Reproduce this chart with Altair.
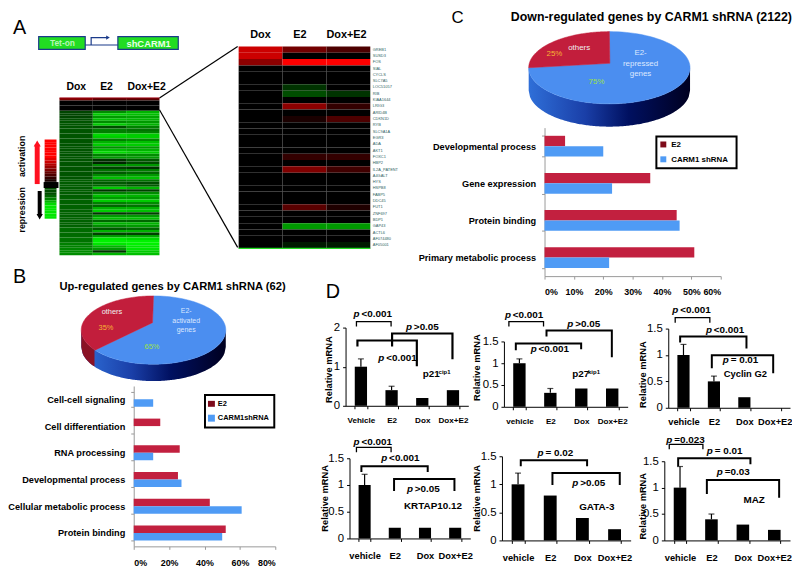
import altair as alt
import numpy as np
import pandas as pd

FONT = "Liberation Sans"
W, H = 792, 560

# ---------- data ----------
hm_left_cols = ["Dox", "E2", "Dox+E2"]
hm_left_head = [[0.5, 0.35, 0.35], [0, 0, 0], [0, 0, 0], [0, 0, 0], [0, 0, 0]]
hm_left_dox = [-.27, -.27, -.27, -.3, -.33, -.33, -.33, -.33, -.33, -.33,
               -.33, -.33, -.33, -.33, -.33, -.33, -.33, -.33, -.33, -.33,
               -.33, -.33, -.33, -.33, -.33, -.33, -.33, -.36, -.36, -.36,
               -.36, -.36, -.36, -.36, -.38, -.38, -.38, -.38, -.38, -.38,
               -.38, -.38, -.38, -.38, -.38, -.38, -.42, -.42, -.42, -.42,
               -.45, -.45, -.5, -.5, -.52, -.55, -.55]
hm_left_e2 = [-.55, -.8, -.6, -.75, -.55, -.8, -.3, -.5, -.5, -.85,
              -.8, -.5, -.7, -.8, -.55, -.75, -.85, -.5, -.6, -.2,
              -.15, -.55, -.25, -.45, -.35, -.55, -.75, -.4, -.35, -.4,
              -.8, -.2, -.5, -.75, -.6, -.8, -.5, -.4, -.7, -.8,
              -.2, -.6, -.75, -.4, -.7, -.55, -.35, -.7, -.25, -.6,
              -.9, -.95, -.9, -.7, -.6, -.2, -.7]
hm_left_de = [-.7, -.75, -.65, -.7, -.6, -.7, -.5, -.45, -.5, -.8,
              -.8, -.55, -.75, -.8, -.6, -.7, -.8, -.55, -.6, -.35,
              -.3, -.6, -.2, -.5, -.4, -.6, -.75, -.45, -.3, -.35,
              -.7, -.25, -.55, -.7, -.6, -.8, -.55, -.45, -.7, -.75,
              -.25, -.6, -.75, -.4, -.7, -.6, -.4, -.7, -.25, -.65,
              -.85, -.95, -.95, -.9, -.9, -.8, -.75]

genes = ["GREB1", "SUSD3", "FOS", "SIAL", "CYCLS", "SLC7A5", "LOC51057", "RIB",
         "KIAA1644", "LRIG3", "ARID4B", "CDKN1D", "RYB", "SLC9A1A", "EGR3", "ADA",
         "AKT1", "FOXC1", "HBP2", "IL2A_PATENT", "A4GALT", "HYS", "HSPB8", "FABP5",
         "DDC45", "FUT1", "ZNF697", "BDP1", "GAP43", "ACTL6", "AF074480", "AF05001"]
hm_right_dox = [.8, .8, .55] + [0] * 29
hm_right_e2 = [.45, 0, 1, 0, 0, 0, -.2, -.3, 0, .55, 0, .1, 0, 0, 0, 0, 0, .2, 0, .5,
               0, 0, 0, 0, 0, .35, 0, 0, -.6, 0, 0, -.1]
hm_right_de = [.3, 0, 1, 0, 0, 0, 0, -.2, 0, .2, 0, .3, 0, 0, 0, 0, 0, .2, 0, .25,
               0, 0, 0, 0, 0, .12, 0, 0, -.6, 0, 0, -.1]
colorbar_vals = [1, 1, 1, 1, 1, 1, 1, .9, .8, .7, .6, .5, .4, .3, .2, .1, 0, 0,
                 -.3, -.3, -.3, -.4, -.5, -.7, -.85, -.9, -.9, -.9, -.9, -.9]

up_cats = ["Cell-cell signaling", "Cell differentiation", "RNA processing",
           "Developmental process", "Cellular metabolic process", "Protein binding"]
up_e2 = [0, 15, 26, 25, 43, 52]
up_sh = [11, 0, 11, 27, 61, 50]
down_cats = ["Developmental process", "Gene expression", "Protein binding",
             "Primary metabolic process"]
down_e2 = [7, 36, 45, 51]
down_sh = [20, 23, 46, 22]

pie_up_others = 35
pie_down_others = 25

qpcr = [
    (["Vehicle", "E2", "Dox", "Dox+E2"], [1, .4, .2, .4], [.2, .1, 0, 0]),
    (["vehicle", "E2", "Dox", "Dox+E2"], [1, .32, .42, .42], [.1, .1, 0, 0]),
    (["vehicle", "E2", "Dox", "Dox+E2"], [1, .5, .2, 0], [.2, .1, 0, 0]),
    (["vehicle", "E2", "Dox", "Dox+E2"], [1, .2, .2, .2], [.2, 0, 0, 0]),
    (["vehicle", "E2", "Dox", "Dox+E2"], [1, .8, .4, .2], [.2, 0, 0, 0]),
    (["vehicle", "E2", "Dox", "Dox+E2"], [1, .4, .3, .2], [.4, .1, 0, 0]),
]

# ---------- layout (image pixels) ----------
# x0, x1, y0, ytop, ymax, yticks, label size, label pad, title x, title y
qpcr_layout = [
    (349, 473, 407, 328, 2.0, [0, 1, 2], 8.2, 8, 328, 370),
    (509, 634, 408, 342, 1.5, [0, .5, 1, 1.5], 8.2, 8, 477, 368),
    (675, 798, 409, 329, 1.5, [0, .5, 1, 1.5], 9.4, 7, 645, 375),
    (353, 475, 541, 460, 1.5, [0, .5, 1, 1.5], 9.4, 10, 324, 500),
    (507, 637, 543, 458, 1.5, [0, .5, 1, 1.5], 9.4, 10, 477, 500),
    (671, 798, 543, 463, 1.5, [0, .5, 1, 1.5], 9.4, 10, 645, 508),
]

fx = alt.Scale(domain=[0, 800], range=[-8, 792], nice=False, zero=False)
fy = alt.Scale(domain=[0, 572], range=[-8, 564], nice=False, zero=False)
FX = alt.X("x:Q", scale=fx, axis=None)
FY = alt.Y("y:Q", scale=fy, axis=None)
FX2 = alt.X2("x2:Q")
FY2 = alt.Y2("y2:Q")

layers = []

# ---------- heatmaps ----------
GREEN_RED = alt.Scale(domain=[-1, 0, 1], range=["#00ff00", "#000000", "#ff0000"],
                      interpolate="rgb", nice=False, zero=False)


def heat(df, xr, yr, cols, rows, yaxis=None):
    return alt.Chart(df).mark_rect().encode(
        x=alt.X("col:N", sort=cols, axis=None,
                scale=alt.Scale(domain=cols, range=[xr[0] - 8, xr[1] - 8], padding=0)),
        y=alt.Y("row:N", sort=rows, axis=yaxis,
                scale=alt.Scale(domain=rows, range=[yr[0] - 8, yr[1] - 8], padding=0)),
        color=alt.Color("v:Q", scale=GREEN_RED, legend=None),
    )


left_rows = [list(r) for r in hm_left_head] + [list(r) for r in zip(hm_left_dox, hm_left_e2, hm_left_de)]
left_df = pd.DataFrame([
    {"col": c, "row": f"g{i:02d}", "v": float(row[j])}
    for i, row in enumerate(left_rows) for j, c in enumerate(hm_left_cols)
])
layers.append(heat(left_df, (60, 161), (96, 255), hm_left_cols, [f"g{i:02d}" for i in range(len(left_rows))]))

right_df = pd.DataFrame([
    {"col": c, "row": g, "v": float(vals[i])}
    for c, vals in zip(hm_left_cols, [hm_right_dox, hm_right_e2, hm_right_de])
    for i, g in enumerate(genes)
])
gene_axis = alt.Axis(orient="right", offset=-(W - (374 - 8)), domain=False, ticks=False,
                     labelFontSize=4, labelColor="#2f5f5f", labelPadding=2, title=None,
                     labelFont=FONT, labelOverlap=False)
layers.append(heat(right_df, (241, 374), (44, 248), hm_left_cols, genes, gene_axis))

cb_df = pd.DataFrame({"col": "bar", "row": [f"c{i:02d}" for i in range(len(colorbar_vals))],
                      "v": [float(v) for v in colorbar_vals]})
layers.append(heat(cb_df, (45, 57), (138, 218), ["bar"], list(cb_df["row"])))

# ---------- pies ----------
PIE_BLUE, PIE_RED = "#4b8ef0", "#c21e3c"
side_grad = alt.LinearGradient(gradient="linear", x1=0, x2=1, y1=0, y2=0, stops=[
    alt.GradientStop(color="#2f6fd8", offset=0),
    alt.GradientStop(color="#1a3fa8", offset=.35),
    alt.GradientStop(color="#001060", offset=.62),
    alt.GradientStop(color="#000020", offset=1),
])


def pie(cx, cy, rx, ry, ax, ay, depth, others):
    u = np.linspace(-1, 1, 121)
    xs = cx + rx * u
    ys = cy + ry * np.sqrt(1 - u ** 2)
    side = pd.DataFrame({"x": xs, "y": ys, "y2": ys + depth})
    out = [alt.Chart(side).mark_area(color=side_grad).encode(x=FX, y=FY, y2=FY2)]
    start = 2 * np.pi * (1 - others / 100)
    if others > 25:
        sub = side[side.x <= cx + rx * np.sin(start)]
        out.append(alt.Chart(sub).mark_area(color="#8a1226").encode(x=FX, y=FY, y2=FY2))

    def poly(t0, t1, col):
        t = np.linspace(t0, t1, 90)
        px = np.r_[ax, cx + rx * np.sin(t), ax]
        py = np.r_[ay, cy - ry * np.cos(t), ay]
        d = pd.DataFrame({"x": px, "y": py, "i": np.arange(len(px))})
        return alt.Chart(d).mark_line(color=col, fill=col, strokeWidth=.5, interpolate="linear").encode(
            x=FX, y=FY, order="i:Q")

    out.append(poly(0, start, PIE_BLUE))
    out.append(poly(start, 2 * np.pi, PIE_RED))
    return out


layers += pie(155, 330.5, 73, 34.5, 154, 323, 17, pie_up_others)
layers += pie(615.5, 65.5, 81.5, 36.5, 616, 61, 23, pie_down_others)

# ---------- horizontal bars ----------
BAR_RED, BAR_BLUE = "#c2203f", "#4f9bf5"


def hbars(cats, e2, sh, x0, x1, xmax, xstep, y0, y1, labelsize, ticksize, xlab_pad):
    df = pd.DataFrame(
        [{"cat": c, "s": "E2", "v": v, "c": BAR_RED} for c, v in zip(cats, e2)] +
        [{"cat": c, "s": "CARM1shRNA", "v": v, "c": BAR_BLUE} for c, v in zip(cats, sh)])
    return alt.Chart(df).mark_bar().encode(
        x=alt.X("v:Q", scale=alt.Scale(domain=[0, xmax], range=[x0 - 8, x1 - 8], nice=False),
                axis=alt.Axis(orient="bottom", offset=(y1 - 8) - H, values=list(range(0, xmax + 1, xstep)),
                              labelExpr="datum.value + '%'", grid=False, title=None, domainColor="#999",
                              tickColor="#999", tickSize=3, labelFont=FONT, labelFontWeight="bold",
                              labelFontSize=ticksize, labelColor="#000", labelPadding=xlab_pad)),
        y=alt.Y("cat:N", sort=cats,
                scale=alt.Scale(domain=cats, range=[y0 - 8, y1 - 8], paddingInner=.44, paddingOuter=.22),
                axis=alt.Axis(orient="left", offset=-(x0 - 8), grid=False, title=None, domainColor="#999",
                              tickColor="#999", tickSize=3, tickBand="extent", labelFont=FONT,
                              labelFontWeight="bold", labelFontSize=labelsize, labelColor="#000",
                              labelPadding=6, labelLimit=300)),
        yOffset=alt.YOffset("s:N", sort=["E2", "CARM1shRNA"]),
        color=alt.Color("c:N", scale=None),
    )


layers.append(hbars(up_cats, up_e2, up_sh, 135, 278, 80, 20, 387, 549, 9.3, 9, 9))
layers.append(hbars(down_cats, down_e2, down_sh, 550, 728, 60, 10, 126, 276, 9.3, 9, 9))

# ---------- qPCR bars ----------
for (cats, vals, errs), (x0, x1, y0, yt, ymax, ticks, ls, lp, tx, ty) in zip(qpcr, qpcr_layout):
    df = pd.DataFrame({"cat": cats, "v": vals, "top": [v + e for v, e in zip(vals, errs)], "e": errs})
    xsc = alt.Scale(domain=cats, range=[x0 - 8, x1 - 8], paddingInner=.6, paddingOuter=.3)
    ysc = alt.Scale(domain=[0, ymax], range=[y0 - 8, yt - 8], nice=False)
    xe = alt.X("cat:N", sort=cats, scale=xsc, axis=None)
    ev = df[df.e > 0]
    layers.append(alt.Chart(ev).mark_rule(color="black", strokeWidth=1.2).encode(
        x=xe, y=alt.Y("v:Q", scale=ysc, axis=None), y2="top:Q"))
    layers.append(alt.Chart(ev).mark_tick(color="black", thickness=1.2, size=6, orient="horizontal").encode(
        x=xe, y=alt.Y("top:Q", scale=ysc, axis=None)))
    layers.append(alt.Chart(df).mark_bar(color="black").encode(
        x=alt.X("cat:N", sort=cats, scale=xsc, title=None,
                axis=alt.Axis(orient="bottom", offset=(y0 - 8) - H, labelAngle=0, domainColor="#000",
                              tickColor="#000", tickSize=3, tickBand="extent", labelFont=FONT,
                              labelFontWeight="bold", labelFontSize=ls, labelColor="#000",
                              labelPadding=lp)),
        y=alt.Y("v:Q", scale=ysc,
                axis=alt.Axis(orient="left", offset=-(x0 - 8), values=ticks, format="~g", grid=False,
                              domainColor="#000", tickColor="#000", tickSize=3, labelFont=FONT,
                              labelFontSize=11.5, labelColor="#000", labelPadding=3,
                              title="Relative mRNA", titleFont=FONT, titleFontSize=9.4,
                              titleFontWeight="bold", titleColor="#000",
                              titleX=tx - x0 + 9, titleY=ty - 8)),
    ))

# ---------- annotation geometry ----------
# legend boxes, gene-cassette boxes, swatches: x, x2, y, y2, fill, stroke, width
boxes = [
    (39, 86, 34, 47, "#22dd22", "#1a3a8a", 1.2), (119, 180, 34, 47, "#22dd22", "#1a3a8a", 1.2),
    (44, 59, 181, 187, "#000", "#000", 0),
    (207, 277, 396, 429, "#fff", "#000", 2), (210, 217, 402, 408, "#7d0a1a", "#7d0a1a", 0),
    (210, 217, 416, 423, BAR_BLUE, BAR_BLUE, 0),
    (663, 744, 135, 167, "#fff", "#000", 2), (667, 673, 140, 146, "#7d0a1a", "#7d0a1a", 0),
    (667, 673, 155, 161, BAR_BLUE, BAR_BLUE, 0),
]
bdf = pd.DataFrame(boxes, columns=["x", "x2", "y", "y2", "f", "s", "w"])
layers.append(alt.Chart(bdf).mark_rect().encode(
    x=FX, x2=FX2, y=FY, y2=FY2, fill=alt.Fill("f:N", scale=None),
    stroke=alt.Stroke("s:N", scale=None), strokeWidth=alt.StrokeWidth("w:Q", scale=None)))

# brackets: x1, y1, x2, y2, ytop, width
brackets = [
    (360, 327, 395, 327, 322, 1.3), (361, 347, 421, 367, 341, 2.2), (396, 347, 457, 360, 334, 2.2),
    (514, 327, 549, 327, 322, 1.3), (552, 337, 618, 358, 331, 2), (521, 351, 587, 350, 344, 2),
    (682, 323, 717, 323, 318, 1.3), (687, 343, 754, 349, 337, 2), (719, 369, 781, 374, 356, 2),
    (360, 454, 395, 454, 449, 1.3), (365, 474, 432, 474, 468, 2), (398, 493, 459, 493, 481, 2),
    (526, 468, 593, 468, 462, 2), (558, 487, 626, 487, 475, 2),
    (676, 451, 710, 451, 446, 1.3), (685, 468, 758, 466, 460, 2), (714, 496, 787, 500, 482, 2),
]
paths = []
for k, (xa, ya, xb, yb, yt_, w) in enumerate(brackets):
    for i, (px, py) in enumerate([(xa, ya), (xa, yt_), (xb, yt_), (xb, yb)]):
        paths.append({"id": k, "i": i, "x": px, "y": py, "w": w, "c": "#000"})
extra_paths = [
    ([(161, 96), (240, 44)], 1.2, "#000"), ([(161, 108), (240, 247)], 1.2, "#000"),
    ([(86, 42.5), (119, 42.5)], 1.2, "#1a3a8a"),
    ([(92, 42.5), (92, 35), (108, 35)], 1.2, "#1a3a8a"),
    ([(37.5, 183), (37.5, 143)], 5, "#ff1020"), ([(40, 190), (40, 215)], 4, "#000"),
    ([(241, 248), (374, 248)], 1.2, "#22dd22"), ([(60, 96), (161, 96)], 1, "#a00010"),
]
for k, (pts, w, c) in enumerate(extra_paths):
    for i, (px, py) in enumerate(pts):
        paths.append({"id": 100 + k, "i": i, "x": px, "y": py, "w": w, "c": c})
layers.append(alt.Chart(pd.DataFrame(paths)).mark_line(interpolate="linear").encode(
    x=FX, y=FY, order="i:Q", detail="id:N", stroke=alt.Stroke("c:N", scale=None),
    strokeWidth=alt.StrokeWidth("w:Q", scale=None)))

heads = pd.DataFrame([
    (37.5, 142, "triangle-up", "#ff1020", 50), (40, 216, "triangle-down", "#000", 40),
    (109, 35, "triangle-right", "#1a3a8a", 18),
], columns=["x", "y", "sh", "c", "sz"])
layers.append(alt.Chart(heads).mark_point(filled=True, opacity=1).encode(
    x=FX, y=FY, shape=alt.Shape("sh:N", scale=None), fill=alt.Fill("c:N", scale=None),
    size=alt.Size("sz:Q", scale=None)))

# ---------- text ----------
# text, x, y, size, colour, align, weight, style, angle
B, N = "bold", "normal"
texts = [
    ("A", 13, 31, 20, "#000", "left", N, N, 0), ("B", 13, 283, 20, "#000", "left", N, N, 0),
    ("C", 456, 20, 17, "#000", "left", N, N, 0), ("D", 329, 298, 20, "#000", "left", N, N, 0),
    ("Tet-on", 63, 44, 8.5, "#b8f5b8", "center", B, N, 0), ("shCARM1", 150, 44.5, 9.5, "#e8ffe8", "center", B, N, 0),
    ("Dox", 77, 88, 10.5, "#000", "center", B, N, 0), ("E2", 107.5, 88, 10.5, "#000", "center", B, N, 0),
    ("Dox+E2", 148, 88, 10.5, "#000", "center", B, N, 0),
    ("Dox", 263, 35, 11, "#000", "center", B, N, 0), ("E2", 303, 35, 11, "#000", "center", B, N, 0),
    ("Dox+E2", 350, 35, 11, "#000", "center", B, N, 0),
    ("activation", 25, 155, 9, "#000", "center", B, N, 270),
    ("repression", 25, 209, 9, "#000", "center", B, N, 270),
    ("Up-regulated genes by CARM1 shRNA (62)", 60, 290, 11.3, "#000", "left", B, N, 0),
    ("Down-regulated genes by CARM1 shRNA (2122)", 516, 18, 12.5, "#000", "left", B, N, 0),
    ("others", 113, 314, 7.5, "#eee", "center", N, N, 0), ("35%", 107, 330, 7.5, "#f7b234", "center", N, N, 0),
    ("E2-", 188, 313, 7, "#dde8ff", "center", N, N, 0), ("activated", 188, 323, 7, "#dde8ff", "center", N, N, 0),
    ("genes", 188, 332, 7, "#dde8ff", "center", N, N, 0), ("65%", 153.5, 350, 7.5, "#9be04a", "center", N, N, 0),
    ("others", 585, 48, 8, "#eee", "center", N, N, 0), ("25%", 560, 54, 8, "#f7b234", "center", N, N, 0),
    ("E2-", 647, 53, 8, "#dde8ff", "center", N, N, 0), ("repressed", 647, 64, 8, "#dde8ff", "center", N, N, 0),
    ("genes", 647, 74, 8, "#dde8ff", "center", N, N, 0), ("75%", 602.5, 82, 8, "#9be04a", "center", N, N, 0),
    ("E2", 220, 407, 7.5, "#000", "left", B, N, 0), ("CARM1shRNA", 220, 421, 7.5, "#000", "left", B, N, 0),
    ("E2", 678, 146, 8, "#000", "left", B, N, 0), ("CARM1 shRNA", 678, 161, 8, "#000", "left", B, N, 0),
    ("p21", 427, 378, 10, "#000", "left", B, N, 0), ("cip1", 443, 375, 6, "#000", "left", B, N, 0),
    ("p27", 578, 378, 10, "#000", "left", B, N, 0), ("kip1", 594, 375, 6, "#000", "left", B, N, 0),
    ("Cyclin G2", 731, 378, 9.5, "#000", "left", B, N, 0),
    ("KRTAP10.12", 408, 511, 10, "#000", "left", B, N, 0),
    ("GATA-3", 585, 512, 10, "#000", "left", B, N, 0), ("MAZ", 751, 505, 10, "#000", "left", B, N, 0),
]
pvals = [
    (357, 317, "<0.001"), (410, 330, ">0.05"), (382, 362, "<0.001"),
    (510, 318, "<0.001"), (536, 353, "<0.001"), (573, 327, ">0.05"),
    (679, 313, "<0.001"), (713, 333, "<0.001"), (730, 364, "= 0.01"),
    (357, 447, "<0.001"), (385, 463, "<0.001"), (411, 494, ">0.05"),
    (543, 458, "= 0.02"), (578, 488, ">0.05"),
    (673, 445, "=0.023"), (714, 456, "= 0.01"), (724, 477, "=0.03"),
]
for px, py, s in pvals:
    texts.append(("p", px, py, 10, "#000", "left", B, "italic", 0))
    texts.append((s, px + 8, py, 10, "#000", "left", B, N, 0))
tdf = pd.DataFrame(texts, columns=["t", "x", "y", "s", "c", "a", "w", "st", "ang"])
for (a, w, st, ang), g in tdf.groupby(["a", "w", "st", "ang"]):
    kw = dict(font=FONT, align=a, fontWeight=w, baseline="alphabetic")
    if st == "italic":
        kw["fontStyle"] = "italic"
    if ang:
        kw["angle"] = int(ang)
    layers.append(alt.Chart(g).mark_text(**kw).encode(
        x=FX, y=FY, text="t:N", size=alt.Size("s:Q", scale=None), color=alt.Color("c:N", scale=None)))

chart = alt.layer(*layers).resolve_scale(
    x="independent", y="independent", color="independent", yOffset="independent",
    fill="independent", stroke="independent", size="independent", strokeWidth="independent",
    shape="independent",
).properties(
    width=W, height=H, padding=0, background="#ffffff",
    autosize=alt.AutoSizeParams(type="none"),
).configure_view(stroke=None)

chart.save("out.html", embed_options={"renderer": "svg", "actions": False})
